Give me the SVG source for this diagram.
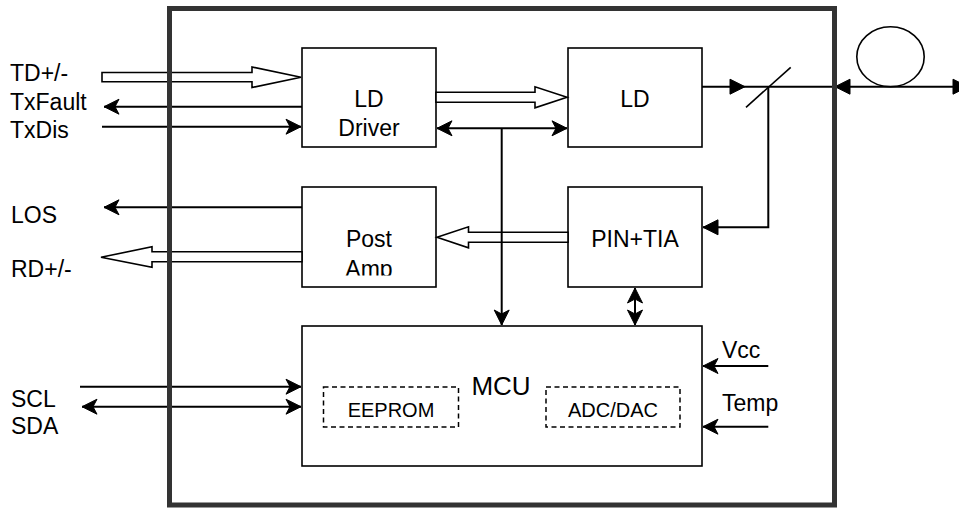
<svg xmlns="http://www.w3.org/2000/svg" width="959" height="508" viewBox="0 0 959 508">
<style>
  text{font-family:"Liberation Sans",Arial,Helvetica,sans-serif;fill:#000;}
  .lbl{font-size:23px;}
  .big{font-size:26px;}
  .sm{font-size:20px;}
  .mid{text-anchor:middle;}
  .box{fill:#fff;stroke:#000;stroke-width:1.6;}
  .dash{fill:none;stroke:#000;stroke-width:1.5;stroke-dasharray:5 3.5;}
  .ln{fill:none;stroke:#000;stroke-width:2;}
  .hol{fill:#fff;stroke:#000;stroke-width:1.6;stroke-linejoin:miter;}
  .frame{fill:none;stroke:#333;stroke-width:5;}
</style>
<defs>
  <marker id="cls" markerUnits="userSpaceOnUse" markerWidth="16" markerHeight="16" refX="15" refY="7.5" orient="auto-start-reverse" overflow="visible">
    <path d="M15,7.5 L0,0 L4,7.5 L0,15 Z" fill="#000" stroke="#000" stroke-width="1" stroke-linejoin="miter"/>
  </marker>
  <marker id="blk" markerUnits="userSpaceOnUse" markerWidth="16" markerHeight="16" refX="15" refY="7.5" orient="auto-start-reverse" overflow="visible">
    <path d="M15,7.5 L0,0 L0,15 Z" fill="#000" stroke="#000" stroke-width="1"/>
  </marker>
  <clipPath id="ampclip"><rect x="302" y="187" width="134" height="88.5"/></clipPath>
</defs>

<g id="ld-driver">
  <rect class="box" x="302" y="48" width="134" height="99"/>
  <text class="lbl mid" x="369" y="107">LD</text>
  <text class="lbl mid" x="369" y="136">Driver</text>
</g>
<g id="ld">
  <rect class="box" x="568" y="48" width="134" height="99"/>
  <text class="lbl mid" x="635" y="107">LD</text>
</g>
<g id="post-amp">
  <rect class="box" x="302" y="187" width="134" height="100"/>
  <text class="lbl mid" x="369" y="246.5">Post</text>
  <text class="lbl mid" x="369" y="276.5" clip-path="url(#ampclip)">Amp</text>
</g>
<g id="pin-tia">
  <rect class="box" x="568" y="187" width="134" height="100"/>
  <text class="lbl mid" x="635" y="247">PIN+TIA</text>
</g>
<g id="mcu">
  <rect class="box" x="302" y="326" width="400" height="140"/>
  <text class="big mid" x="501" y="395">MCU</text>
  <g id="eeprom">
    <rect class="dash" x="323.5" y="387" width="135" height="40"/>
    <text class="sm mid" x="391" y="416.5">EEPROM</text>
  </g>
  <g id="adc-dac">
    <rect class="dash" x="546" y="387" width="134" height="40"/>
    <text class="sm mid" x="613" y="416.5">ADC/DAC</text>
  </g>
</g>
<g id="fiber">
  <ellipse cx="890.5" cy="56.8" rx="33.7" ry="30" fill="none" stroke="#000" stroke-width="1.6"/>
</g>
<g id="signal-labels">
  <text class="lbl" x="10" y="81">TD+/-</text>
  <text class="lbl" x="10" y="110">TxFault</text>
  <text class="lbl" x="10" y="138">TxDis</text>
  <text class="lbl" x="11" y="223">LOS</text>
  <text class="lbl" x="11" y="277">RD+/-</text>
  <text class="lbl" x="11" y="407">SCL</text>
  <text class="lbl" x="11" y="434">SDA</text>
  <text class="lbl" x="722" y="358">Vcc</text>
  <text class="lbl" x="722" y="411">Temp</text>
</g>

<g id="connectors">
  <!-- hollow (bus) arrows -->
  <polygon class="hol" points="102,72.5 252,72.5 252,67 301,77.3 252,87.5 252,81.8 102,81.8"/>
  <polygon class="hol" points="436,92.3 535,92.3 535,86.8 567,97.3 535,107.8 535,102.3 436,102.3"/>
  <polygon class="hol" points="568,232.3 468.5,232.3 468.5,226.8 437,237.3 468.5,247.8 468.5,242.3 568,242.3"/>
  <polygon class="hol" points="302,251.7 152,251.7 152,246.7 101,257.3 152,267.3 152,261.7 302,261.7"/>

  <!-- control lines -->
  <line class="ln" x1="302" y1="106.7" x2="104" y2="106.7" marker-end="url(#cls)"/>
  <line class="ln" x1="102" y1="126.7" x2="301" y2="126.7" marker-end="url(#cls)"/>
  <line class="ln" x1="437" y1="128.3" x2="567" y2="128.3" marker-start="url(#cls)" marker-end="url(#cls)"/>
  <line class="ln" x1="501.7" y1="128.3" x2="501.7" y2="325" marker-end="url(#cls)"/>
  <line class="ln" x1="302" y1="207.3" x2="104" y2="207.3" marker-end="url(#cls)"/>
  <line class="ln" x1="635" y1="288" x2="635" y2="325" marker-start="url(#cls)" marker-end="url(#cls)"/>
  <line class="ln" x1="80" y1="386.7" x2="301" y2="386.7" marker-end="url(#cls)"/>
  <line class="ln" x1="82" y1="406.7" x2="301" y2="406.7" marker-start="url(#cls)" marker-end="url(#cls)"/>
  <line class="ln" x1="768.3" y1="366" x2="703" y2="366" marker-end="url(#cls)"/>
  <line class="ln" x1="768.3" y1="426.7" x2="703" y2="426.7" marker-end="url(#cls)"/>

  <!-- optical path -->
  <line class="ln" x1="702" y1="86.7" x2="745" y2="86.7" marker-end="url(#blk)"/>
  <line class="ln" x1="745" y1="86.7" x2="834" y2="86.7"/>
  <line x1="746" y1="107.3" x2="790.7" y2="67.3" stroke="#000" stroke-width="1.6"/>
  <polyline class="ln" points="768.3,86.7 768.3,227.3 703,227.3" marker-end="url(#blk)"/>
  <line class="ln" x1="835" y1="86.7" x2="968" y2="86.7" marker-start="url(#blk)" marker-end="url(#blk)"/>
</g>

<g id="module-frame">
  <rect class="frame" x="169.5" y="8.5" width="665" height="496.5"/>
</g>
</svg>
